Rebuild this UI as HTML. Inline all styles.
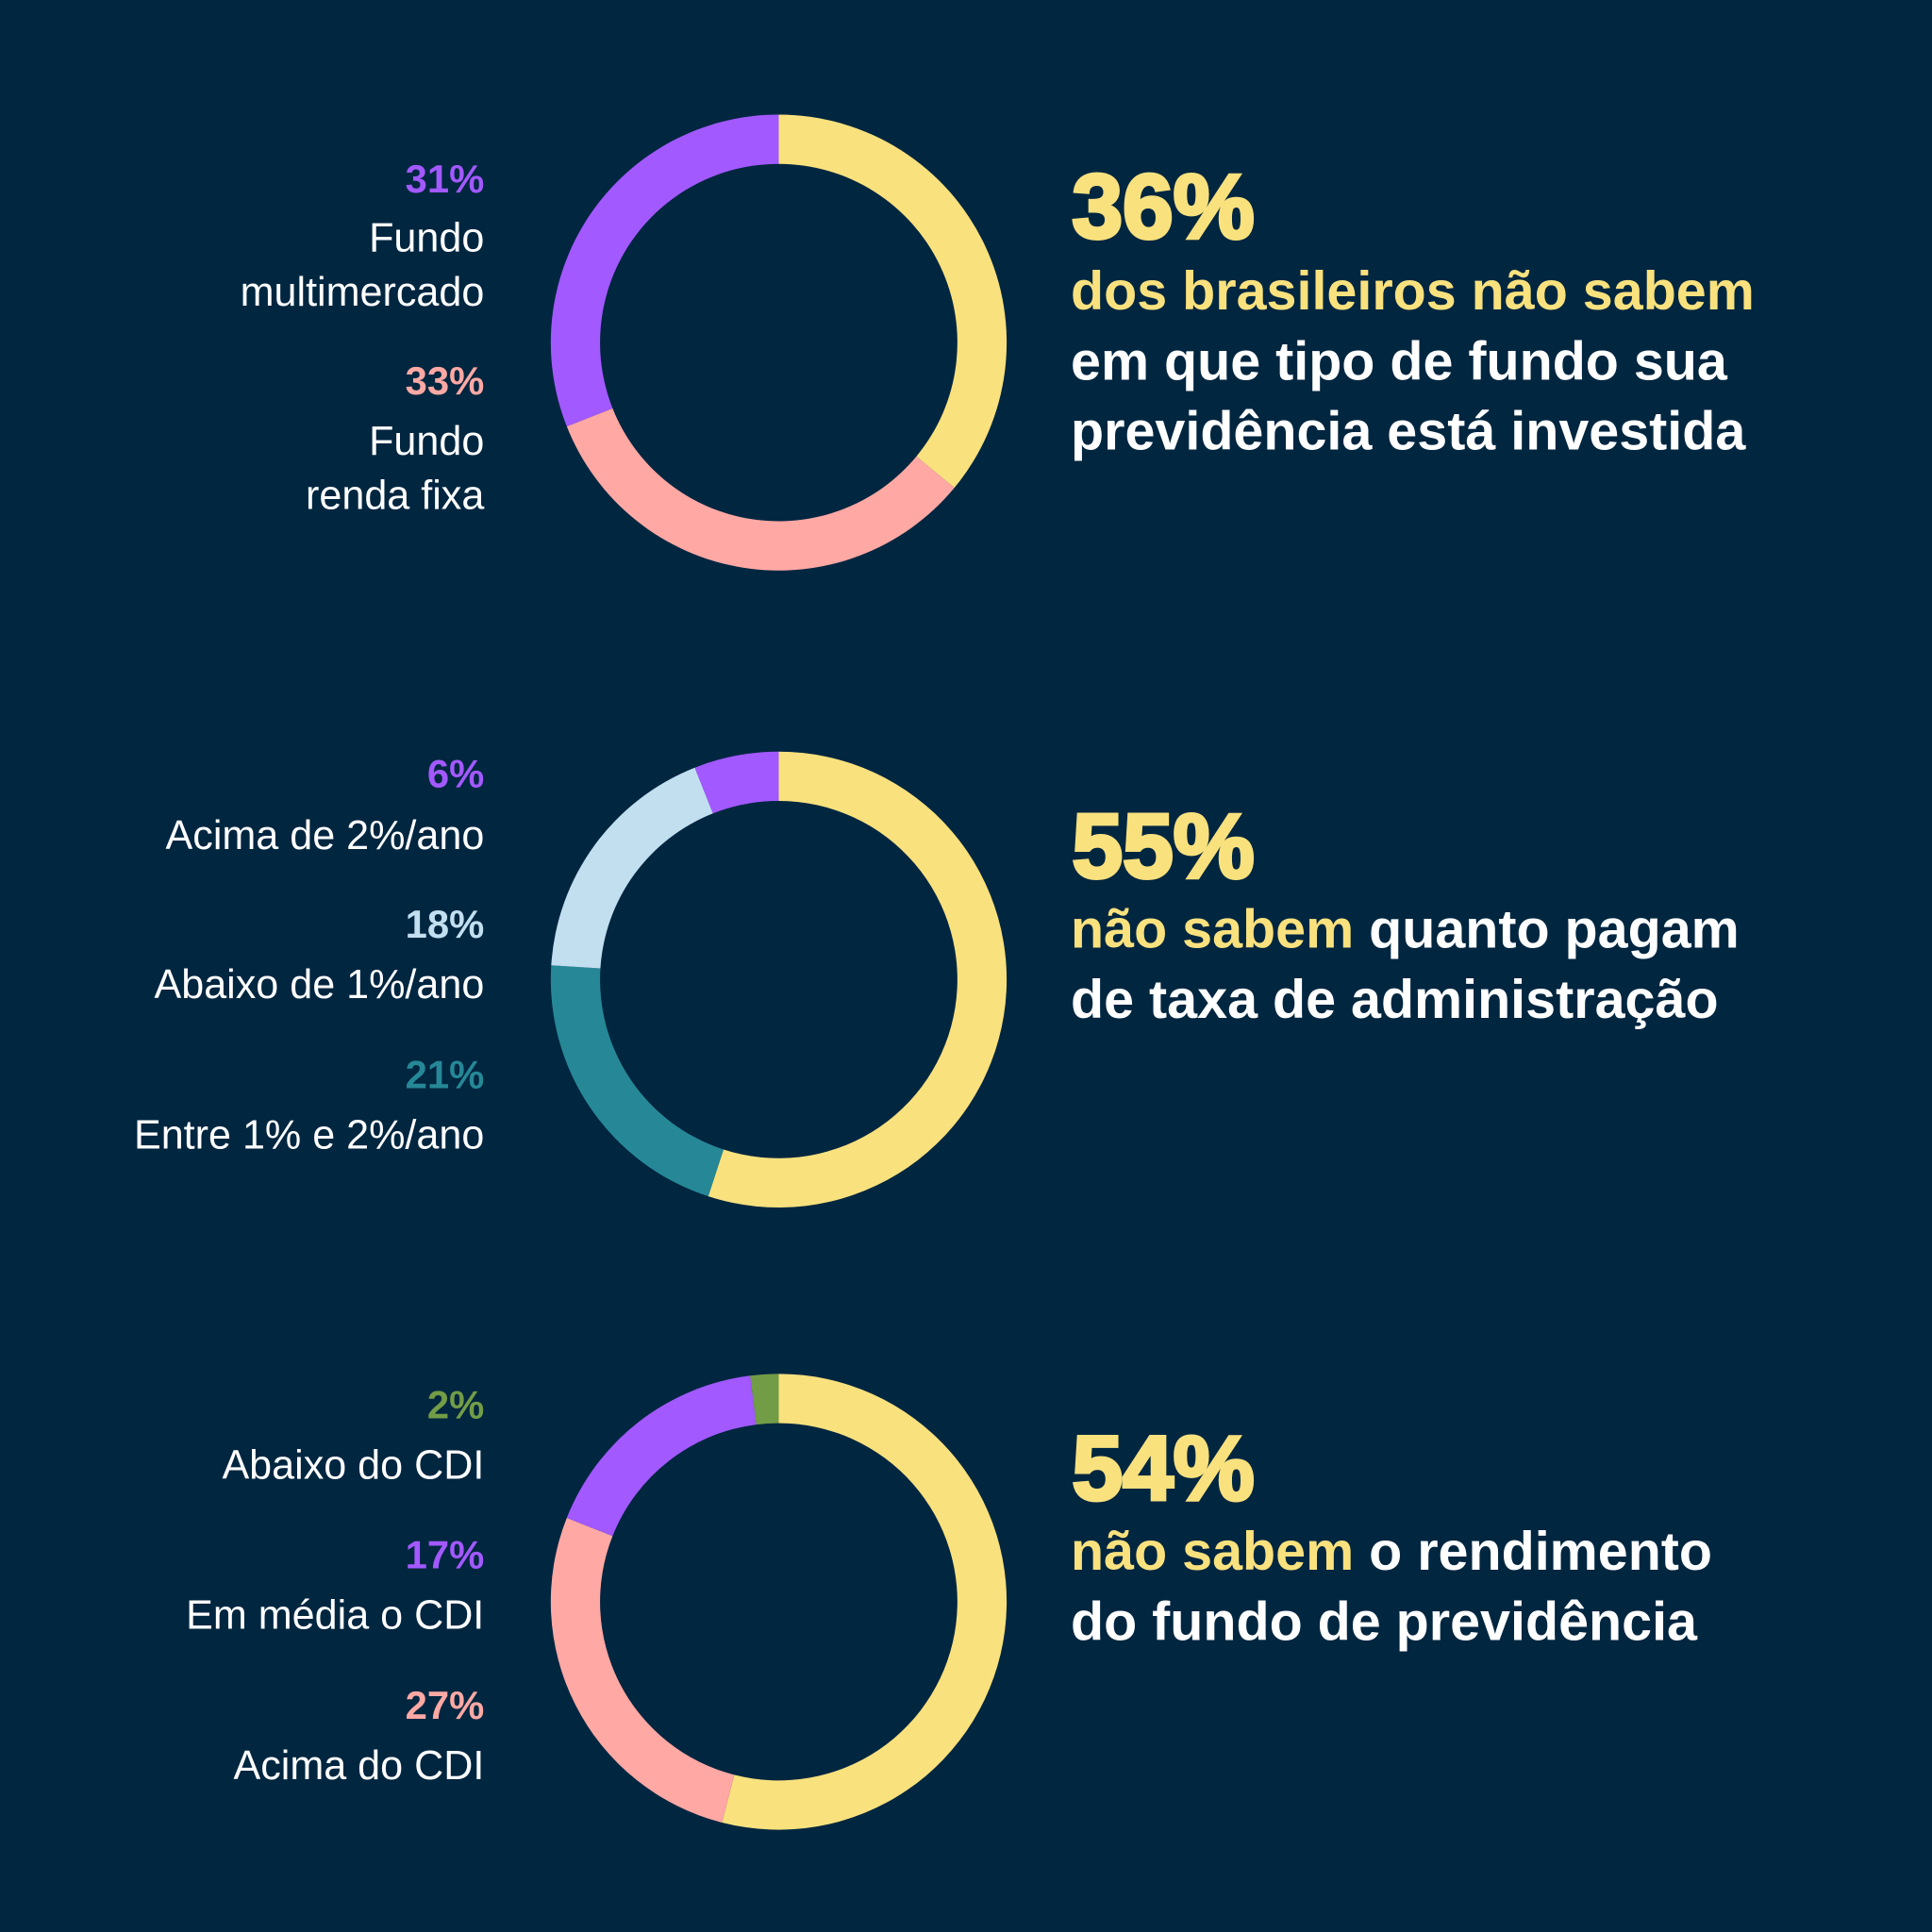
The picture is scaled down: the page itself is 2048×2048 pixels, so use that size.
<!DOCTYPE html>
<html><head><meta charset="utf-8">
<style>
html,body{margin:0;padding:0;background:#012640;}
svg{display:block;}
text{font-family:"Liberation Sans",sans-serif;}
.pct{font-weight:bold;font-size:32px;text-anchor:end;}
.lab{fill:#fff;font-size:33px;text-anchor:end;}
.big{fill:#f9e17e;font-weight:900;font-size:74px;stroke:#f9e17e;stroke-width:3px;}
.ln{fill:#fff;font-weight:bold;font-size:44px;}
.y{fill:#f9e17e;}
</style></head>
<body>
<svg id="chart" width="2048" height="2048" viewBox="0 0 1568 1568" xmlns="http://www.w3.org/2000/svg">
<rect width="1568" height="1568" fill="#012640"/>
<g id="donuts"></g>

<g>
<text class="pct" x="393" y="156" fill="#a259ff">31%</text>
<text class="lab" x="393" y="204">Fundo</text>
<text class="lab" x="393" y="248">multimercado</text>
<text class="pct" x="393" y="320" fill="#ffa8a4">33%</text>
<text class="lab" x="393" y="369">Fundo</text>
<text class="lab" x="393" y="413">renda fixa</text>
</g>
<g>
<text class="pct" x="393" y="639" fill="#a259ff">6%</text>
<text class="lab" x="393" y="689">Acima de 2%/ano</text>
<text class="pct" x="393" y="761" fill="#c2dff0">18%</text>
<text class="lab" x="393" y="810">Abaixo de 1%/ano</text>
<text class="pct" x="393" y="883" fill="#268897">21%</text>
<text class="lab" x="393" y="932">Entre 1% e 2%/ano</text>
</g>
<g>
<text class="pct" x="393" y="1151" fill="#739c47">2%</text>
<text class="lab" x="393" y="1200">Abaixo do CDI</text>
<text class="pct" x="393" y="1273" fill="#a259ff">17%</text>
<text class="lab" x="393" y="1322">Em média o CDI</text>
<text class="pct" x="393" y="1395" fill="#ffa8a4">27%</text>
<text class="lab" x="393" y="1444">Acima do CDI</text>
</g>

<g>
<text class="big" x="870" y="193">36%</text>
<text class="ln y" x="869" y="251">dos brasileiros não sabem</text>
<text class="ln" x="869" y="308">em que tipo de fundo sua</text>
<text class="ln" x="869" y="365">previdência está investida</text>
</g>
<g>
<text class="big" x="870" y="712">55%</text>
<text class="ln" x="869" y="769"><tspan class="y">não sabem</tspan> quanto pagam</text>
<text class="ln" x="869" y="826">de taxa de administração</text>
</g>
<g>
<text class="big" x="870" y="1217">54%</text>
<text class="ln" x="869" y="1274"><tspan class="y">não sabem</tspan>  o rendimento</text>
<text class="ln" x="869" y="1331">do fundo de previdência</text>
</g>
</svg>
<script>
const fundLabels = ["Não sabe","Fundo renda fixa","Fundo multimercado"];
const fundValues = [36,33,31];
const fundColors = ["#f9e17e","#ffa8a4","#a259ff"];
const feeLabels = ["Não sabe","Entre 1% e 2%/ano","Abaixo de 1%/ano","Acima de 2%/ano"];
const feeValues = [55,21,18,6];
const feeColors = ["#f9e17e","#268897","#c2dff0","#a259ff"];
const retLabels = ["Não sabe","Acima do CDI","Em média o CDI","Abaixo do CDI"];
const retValues = [54,27,17,2];
const retColors = ["#f9e17e","#ffa8a4","#a259ff","#739c47"];

const NS="http://www.w3.org/2000/svg";
const g=document.getElementById('donuts');
const R0=185, R1=145;
function pt(cx,cy,r,a){return [cx+r*Math.sin(a), cy-r*Math.cos(a)];}
function donut(cx,cy,labels,values,colors,name){
  const total=values.reduce((a,b)=>a+b,0);
  let acc=0;
  values.forEach((v,i)=>{
    const a0=acc/total*2*Math.PI; acc+=v; const a1=acc/total*2*Math.PI;
    const large=(a1-a0)>Math.PI?1:0;
    const p0=pt(cx,cy,R0,a0),p1=pt(cx,cy,R0,a1),q1=pt(cx,cy,R1,a1),q0=pt(cx,cy,R1,a0);
    const d=`M${p0[0]},${p0[1]} A${R0},${R0} 0 ${large} 1 ${p1[0]},${p1[1]} L${q1[0]},${q1[1]} A${R1},${R1} 0 ${large} 0 ${q0[0]},${q0[1]} Z`;
    const p=document.createElementNS(NS,'path');
    p.setAttribute('d',d);
    p.setAttribute('fill',colors[i]);
    
    
    g.appendChild(p);
  });
}
donut(632,278,fundLabels,fundValues,fundColors,'fund-type-donut');
donut(632,795,feeLabels,feeValues,feeColors,'fee-donut');
donut(632,1300,retLabels,retValues,retColors,'return-donut');
</script>
</body></html>
